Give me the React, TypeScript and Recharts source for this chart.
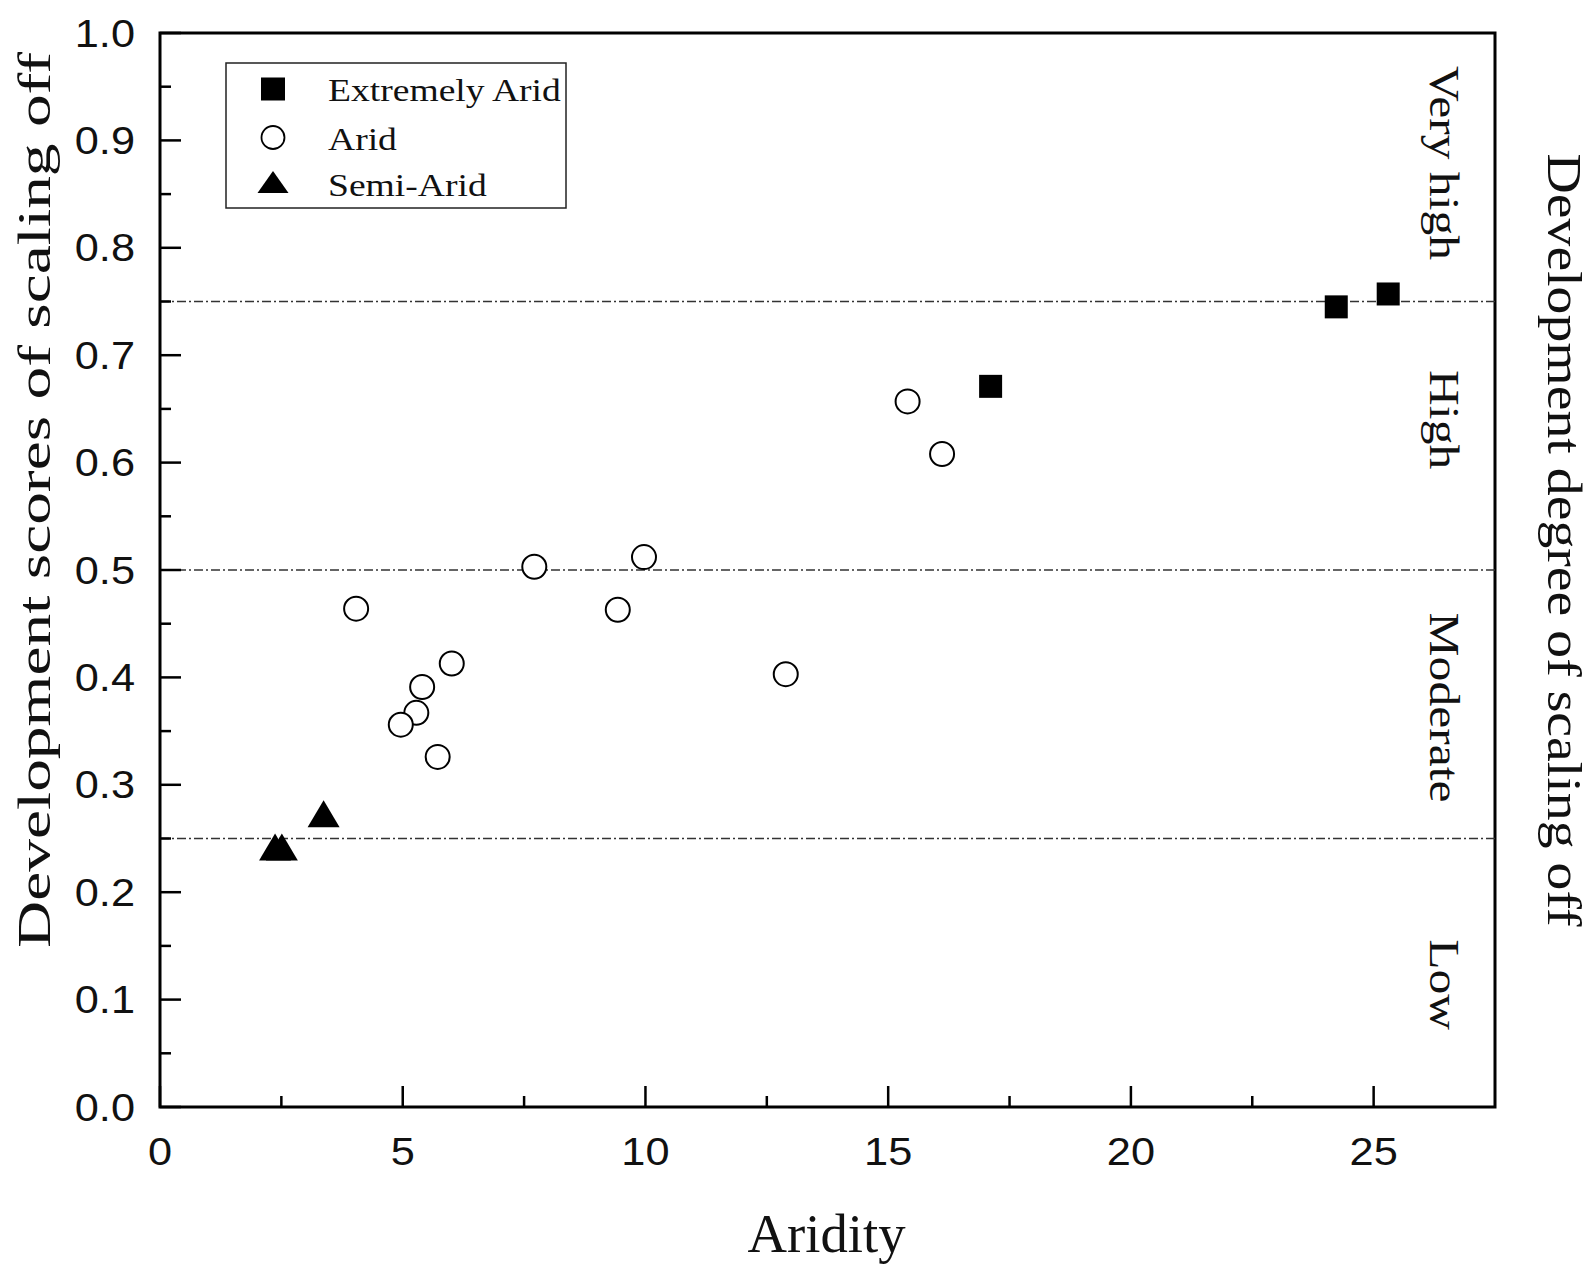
import React from 'react';
import { ScatterChart, Scatter, XAxis, YAxis, ReferenceLine, ReferenceArea, Legend } from 'recharts';

// ---- data ----
const seriesNames = ['Extremely Arid', 'Arid', 'Semi-Arid'];

const extremelyArid = [
  { x: 17.11, y: 0.671 },
  { x: 24.23, y: 0.745 },
  { x: 25.3, y: 0.757 },
];

const arid = [
  { x: 15.4, y: 0.657 },
  { x: 16.11, y: 0.608 },
  { x: 7.71, y: 0.503 },
  { x: 9.97, y: 0.512 },
  { x: 9.43, y: 0.463 },
  { x: 4.04, y: 0.464 },
  { x: 6.01, y: 0.413 },
  { x: 5.4, y: 0.391 },
  { x: 5.28, y: 0.367 },
  { x: 4.96, y: 0.356 },
  { x: 5.72, y: 0.326 },
  { x: 12.89, y: 0.403 },
];

const semiArid = [
  { x: 2.37, y: 0.242 },
  { x: 2.51, y: 0.242 },
  { x: 3.37, y: 0.273 },
];

const xTicks = [0, 2.5, 5, 7.5, 10, 12.5, 15, 17.5, 20, 22.5, 25];
const yTicks = [0, 0.05, 0.1, 0.15, 0.2, 0.25, 0.3, 0.35, 0.4, 0.45, 0.5, 0.55, 0.6, 0.65, 0.7, 0.75, 0.8, 0.85, 0.9, 0.95, 1.0];
const thresholds = [0.25, 0.5, 0.75];
const degreeLabels = ['Low', 'Moderate', 'High', 'Very high'];
const degreeCenters = [0.114, 0.372, 0.64, 0.879];

const xTitle = 'Aridity';
const yTitle = 'Development scores of scaling off';
const rightTitle = 'Development degree of scaling off';

// ---- styles ----
const W = 1587;
const H = 1266;
const SERIF = '"Liberation Serif","Times New Roman",serif';
const SANS = '"Liberation Sans",Arial,sans-serif';
const INK = '#111';

const XTick = (props: any) => {
  const { x, y, payload } = props;
  const v = payload.value;
  const major = Math.abs(v % 5) < 1e-6;
  return (
    <g>
      <line x1={x} y1={y} x2={x} y2={y - (major ? 21 : 11)} stroke="#000" strokeWidth={2.5} />
      {major && (
        <text
          transform={`translate(${x},${y + 58}) scale(1.14,1)`}
          textAnchor="middle"
          fontFamily={SANS}
          fontSize={38}
          fill={INK}
        >
          {String(v)}
        </text>
      )}
    </g>
  );
};

const YTick = (props: any) => {
  const { x, y, payload } = props;
  const v = payload.value;
  const major = Math.abs(v * 10 - Math.round(v * 10)) < 1e-6;
  return (
    <g>
      <line x1={x} y1={y} x2={x + (major ? 21 : 11)} y2={y} stroke="#000" strokeWidth={2.5} />
      {major && (
        <text
          transform={`translate(${x - 25},${y + 13.5}) scale(1.14,1)`}
          textAnchor="end"
          fontFamily={SANS}
          fontSize={38}
          fill={INK}
        >
          {v.toFixed(1)}
        </text>
      )}
    </g>
  );
};

const XTitle = (props: any) => {
  const vb = props.viewBox;
  return (
    <text
      x={vb.x + vb.width / 2 - 1}
      y={vb.y + 145}
      textAnchor="middle"
      fontFamily={SERIF}
      fontSize={54}
      fill={INK}
      textLength={158}
      lengthAdjust="spacingAndGlyphs"
    >
      {xTitle}
    </text>
  );
};

const YTitle = (props: any) => {
  const vb = props.viewBox;
  const cx = vb.x + 42;
  const cy = vb.y + vb.height / 2 - 70;
  return (
    <text
      transform={`translate(${cx},${cy}) rotate(-90)`}
      textAnchor="middle"
      fontFamily={SERIF}
      fontSize={47}
      fill={INK}
      textLength={896}
      lengthAdjust="spacingAndGlyphs"
    >
      {yTitle}
    </text>
  );
};

// right side: the axis title plus the degree labels inside the plot
const RightTitle = (props: any) => {
  const vb = props.viewBox;
  const cx = vb.x + 53;
  const cy = vb.y + vb.height / 2 - 30;
  return (
    <g>
      <text
        transform={`translate(${cx},${cy}) rotate(90)`}
        textAnchor="middle"
        fontFamily={SERIF}
        fontSize={48}
        fill={INK}
        textLength={773}
        lengthAdjust="spacingAndGlyphs"
      >
        {rightTitle}
      </text>
      {degreeLabels.map((lab, i) => {
        const ly = vb.y + (1 - degreeCenters[i]) * vb.height;
        return (
          <text
            key={lab}
            transform={`translate(${vb.x - 65},${ly}) rotate(90) scale(1.18,1)`}
            textAnchor="middle"
            fontFamily={SERIF}
            fontSize={42}
            fill={INK}
          >
            {lab}
          </text>
        );
      })}
    </g>
  );
};

const SquareShape = (p: any) => (
  <rect x={p.cx - 11.5} y={p.cy - 11.5} width={23} height={23} fill="#000" />
);
const RingShape = (p: any) => (
  <circle cx={p.cx} cy={p.cy} r={12} fill="#fff" stroke="#000" strokeWidth={2} />
);
const TriShape = (p: any) => (
  <polygon
    points={`${p.cx},${p.cy - 13.5} ${p.cx + 16},${p.cy + 13.5} ${p.cx - 16},${p.cy + 13.5}`}
    fill="#000"
  />
);

const LegendBox = () => {
  const mx = 48;
  const rows = [27, 75.5, 120];
  const base = [39, 87.5, 134];
  return (
    <svg width={344} height={148} style={{ display: 'block' }}>
      <rect x={1} y={1} width={340} height={145} fill="#fff" stroke="#222" strokeWidth={1.5} />
      <rect x={mx - 12} y={rows[0] - 11.5} width={24} height={23} fill="#000" />
      <circle cx={mx} cy={rows[1]} r={11.5} fill="#fff" stroke="#000" strokeWidth={1.8} />
      <polygon
        points={`${mx},${rows[2] - 11} ${mx + 15.5},${rows[2] + 11} ${mx - 15.5},${rows[2] + 11}`}
        fill="#000"
      />
      {seriesNames.map((n, i) => (
        <text
          key={n}
          transform={`translate(103,${base[i]}) scale(1.175,1)`}
          fontFamily={SERIF}
          fontSize={32}
          fill={INK}
        >
          {n}
        </text>
      ))}
    </svg>
  );
};

export default function App() {
  return (
    <div style={{ width: W, height: H, background: '#fff' }}>
      <ScatterChart width={W} height={H} margin={{ top: 25, right: 0, bottom: 107, left: 0 }}>
        <XAxis
          type="number"
          dataKey="x"
          domain={[0, 27.5]}
          ticks={xTicks}
          interval={0}
          height={60}
          axisLine={false}
          tickLine={false}
          tickSize={0}
          tickMargin={0}
          tick={<XTick />}
          label={{ content: <XTitle /> }}
        />
        <YAxis
          type="number"
          dataKey="y"
          domain={[0, 1]}
          ticks={yTicks}
          interval={0}
          width={152}
          axisLine={false}
          tickLine={false}
          tickSize={0}
          tickMargin={0}
          tick={<YTick />}
          label={{ content: <YTitle /> }}
        />
        <YAxis
          yAxisId="r"
          orientation="right"
          type="number"
          domain={[0, 1]}
          width={100}
          axisLine={false}
          tickLine={false}
          tick={false}
          label={{ content: <RightTitle /> }}
        />
        <ReferenceArea x1={0} x2={27.5} y1={0} y2={1} fill="none" stroke="#000" strokeWidth={3} fillOpacity={0} />
        {thresholds.map((t) => (
          <ReferenceLine key={t} y={t} stroke="#333" strokeWidth={1.5} strokeDasharray="9 3 2 3" />
        ))}
        <Legend
          layout="vertical"
          align="center"
          verticalAlign="middle"
          content={<LegendBox />}
          wrapperStyle={{ position: 'absolute', left: 217, top: 54, width: 344, height: 148, margin: 0, padding: 0 }}
        />
        <Scatter name={seriesNames[2]} data={semiArid} shape={<TriShape />} isAnimationActive={false} />
        <Scatter name={seriesNames[1]} data={arid} shape={<RingShape />} isAnimationActive={false} />
        <Scatter name={seriesNames[0]} data={extremelyArid} shape={<SquareShape />} isAnimationActive={false} />
      </ScatterChart>
    </div>
  );
}
